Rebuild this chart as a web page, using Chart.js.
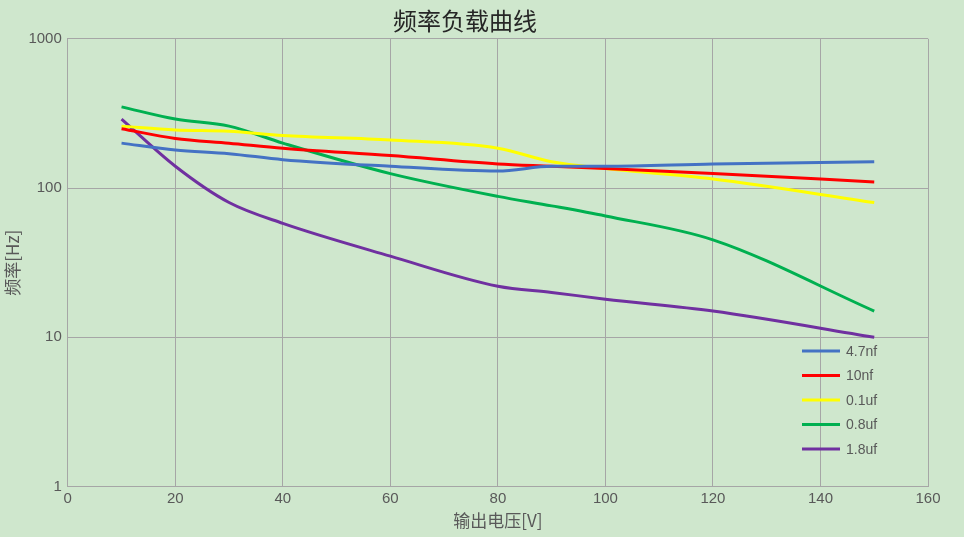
<!DOCTYPE html>
<html><head><meta charset="utf-8">
<script src="https://cdn.jsdelivr.net/npm/chart.js@4"></script>
<style>
html,body{margin:0;padding:0;background:#cfe7cd;}
#wrap{width:964px;height:537px;}
</style></head>
<body><div id="wrap"><canvas id="c"></canvas></div>
<script>
// data
const voltages = [10, 20, 30, 40, 60, 80, 90, 100, 120, 150];
const labels = ["4.7nf", "10nf", "0.1uf", "0.8uf", "1.8uf"];
const colors = ["#4472c4", "#ff0000", "#ffff00", "#00b050", "#7030a0"];
const f47nf = [200, 180, 170, 155, 140, 130, 140, 140, 145, 150];
const f10nf = [250, 215, 200, 185, 165, 145, 140, 135, 125, 110];
const f01uf = [260, 245, 240, 225, 210, 185, 150, 135, 115, 80];
const f08uf = [350, 290, 260, 200, 125, 88, 76, 65, 45, 15];
const f18uf = [290, 140, 80, 58, 35, 22, 20, 18, 15, 10];
const yTicks = [1, 10, 100, 1000];

const series = [f47nf, f10nf, f01uf, f08uf, f18uf];

// legend drawn inside the plot, bottom right
const innerLegend = {
  id: "innerLegend",
  afterDraw(chart) {
    const ctx = chart.ctx;
    const x0 = 802, y0 = 351, step = 24.5;
    ctx.save();
    ctx.font = "14px 'Liberation Sans', Arial";
    ctx.textBaseline = "middle";
    chart.data.datasets.forEach((ds, i) => {
      const y = y0 + i * step;
      ctx.strokeStyle = ds.borderColor;
      ctx.lineWidth = 3;
      ctx.beginPath(); ctx.moveTo(x0, y); ctx.lineTo(x0 + 38, y); ctx.stroke();
      ctx.fillStyle = "#595959";
      ctx.fillText(ds.label, x0 + 44, y + 1);
    });
    ctx.restore();
  }
};

new Chart(document.getElementById("c"), {
  type: "line",
  data: {
    datasets: series.map((s, i) => ({
      label: labels[i],
      data: s.map((v, j) => ({ x: voltages[j], y: v })),
      borderColor: colors[i],
      borderWidth: 3,
      pointRadius: 0,
      cubicInterpolationMode: "monotone",
      fill: false
    }))
  },
  options: {
    responsive: true,
    maintainAspectRatio: false,
    animation: false,
    layout: { padding: { left: 2, right: 36, top: 4, bottom: 6 } },
    plugins: {
      legend: { display: false },
      title: {
        display: true, text: "频率负载曲线", color: "#262626",
        font: { size: 24, weight: "normal", family: "'Noto Sans CJK SC'" }, padding: { top: 2, bottom: 4 }
      }
    },
    scales: {
      x: {
        type: "linear", min: 0, max: 160,
        ticks: { stepSize: 20, color: "#595959", font: { size: 15 } },
        grid: { color: "#a6a6a6", drawTicks: false },
        border: { color: "#a6a6a6" },
        title: { display: true, text: "输出电压[V]", color: "#595959", font: { size: 17, family: "'Noto Sans CJK SC'" }, padding: 0 }
      },
      y: {
        type: "logarithmic", min: 1, max: 1000,
        afterBuildTicks(axis) { axis.ticks = yTicks.map(v => ({ value: v })); },
        ticks: { color: "#595959", font: { size: 15 }, callback: v => String(v), padding: 6 },
        grid: { color: "#a6a6a6", drawTicks: false },
        border: { color: "#a6a6a6" },
        title: { display: true, text: "频率[Hz]", color: "#595959", font: { size: 17, family: "'Noto Sans CJK SC'" }, padding: 0 }
      }
    }
  },
  plugins: [innerLegend]
});
</script></body></html>
